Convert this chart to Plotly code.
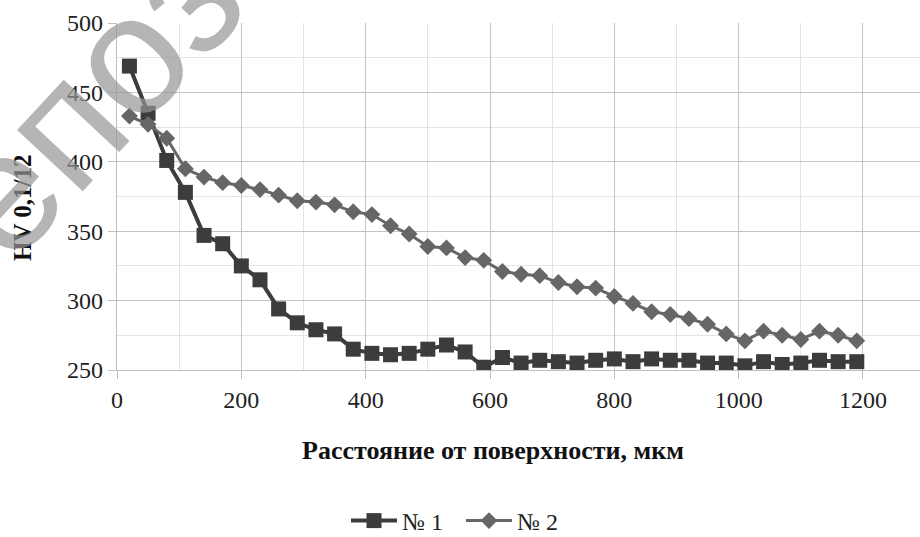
import plotly.graph_objects as go

# Distance from surface, µm
distance = [20, 50, 80, 110, 140, 170, 200, 230, 260, 290,
            320, 350, 380, 410, 440, 470, 500, 530, 560, 590,
            620, 650, 680, 710, 740, 770, 800, 830, 860, 890,
            920, 950, 980, 1010, 1040, 1070, 1100, 1130, 1160, 1190]

# Series "№ 1" (squares)
hv_1 = [469, 435, 401, 378, 347, 341, 325, 315, 294, 284,
        279, 276, 265, 262, 261, 262, 265, 268, 263, 252,
        259, 255, 257, 256, 255, 257, 258, 256, 258, 257,
        257, 255, 255, 253, 256, 254, 255, 257, 256, 256]

# Series "№ 2" (diamonds)
hv_2 = [433, 427, 417, 395, 389, 385, 383, 380, 376, 372,
        371, 369, 364, 362, 354, 348, 339, 338, 331, 329,
        321, 319, 318, 313, 310, 309, 303, 298, 292, 290,
        287, 283, 276, 271, 278, 275, 272, 278, 275, 271]

series_names = ["№ 1", "№ 2"]
x_title = "Расстояние от поверхности, мкм"
y_title = "HV 0,1/12"
watermark = "Репозиторий"

FONT = "Liberation Serif"

fig = go.Figure()
fig.add_trace(go.Scatter(
    x=distance, y=hv_1, name=series_names[0], mode="lines+markers",
    line=dict(color="#3c3c3c", width=4),
    marker=dict(symbol="square", size=15, color="#3c3c3c"),
))
fig.add_trace(go.Scatter(
    x=distance, y=hv_2, name=series_names[1], mode="lines+markers",
    line=dict(color="#666666", width=3),
    marker=dict(symbol="diamond", size=13, color="#666666"),
))

fig.update_layout(
    width=920, height=537,
    margin=dict(l=117, r=0, t=23, b=167, autoexpand=False),
    paper_bgcolor="white", plot_bgcolor="white",
    font=dict(family=FONT, size=24, color="#222222"),
    showlegend=True,
    legend=dict(orientation="h", x=(346 - 117) / 803, xanchor="left",
                y=(370 - 521) / 347, yanchor="middle",
                font=dict(family=FONT, size=24, color="#222222"), itemwidth=46,
                entrywidth=54, entrywidthmode="pixels",
                bgcolor="rgba(0,0,0,0)"),
    xaxis=dict(
        range=[0, 1291.7], dtick=200, tick0=0, automargin=False,
        showgrid=True, gridcolor="#c4c4c4", gridwidth=1.3,
        minor=dict(dtick=100, tick0=0, showgrid=True, gridcolor="#e4e4e4", gridwidth=1.3),
        ticks="outside", ticklen=8, tickcolor="#bfbfbf", tickwidth=1.3,
        showline=True, linecolor="#bfbfbf", linewidth=1.3, zeroline=False,
        tickfont=dict(family=FONT, size=24, color="#222222"),
    ),
    yaxis=dict(
        range=[250, 500.05], dtick=50, tick0=250, automargin=False,
        showgrid=True, gridcolor="#c4c4c4", gridwidth=1.3,
        minor=dict(dtick=25, tick0=250, showgrid=True, gridcolor="#e4e4e4", gridwidth=1.3),
        ticks="outside", ticklen=8, tickcolor="#bfbfbf", tickwidth=1.3,
        showline=True, linecolor="#bfbfbf", linewidth=1.3, zeroline=False,
        tickfont=dict(family=FONT, size=24, color="#222222"),
    ),
    annotations=[
        dict(text="<b>" + x_title + "</b>", xref="paper", yref="paper",
             x=(493 - 117) / 803, y=(370 - 450) / 347, xanchor="center", yanchor="middle",
             showarrow=False,
             font=dict(family=FONT, size=26, color="#111111")),
        dict(text="<b>" + y_title + "</b>", xref="paper", yref="paper",
             x=(22 - 117) / 803, y=(370 - 208) / 347, xanchor="center", yanchor="middle",
             textangle=-90, showarrow=False,
             font=dict(family=FONT, size=25, color="#111111")),
        dict(text=watermark, xref="paper", yref="paper",
             x=(240 - 117) / 803, y=(370 + 64) / 347, xanchor="center", yanchor="middle",
             textangle=-47, showarrow=False,
             font=dict(family="Liberation Sans", size=170,
                       color="rgba(150,150,150,0.7)")),
    ],
)

fig.write_html(
    "out.html",
    config={"displayModeBar": False},
    post_script="document.body.style.margin='0';document.body.style.overflow='hidden';",
)
